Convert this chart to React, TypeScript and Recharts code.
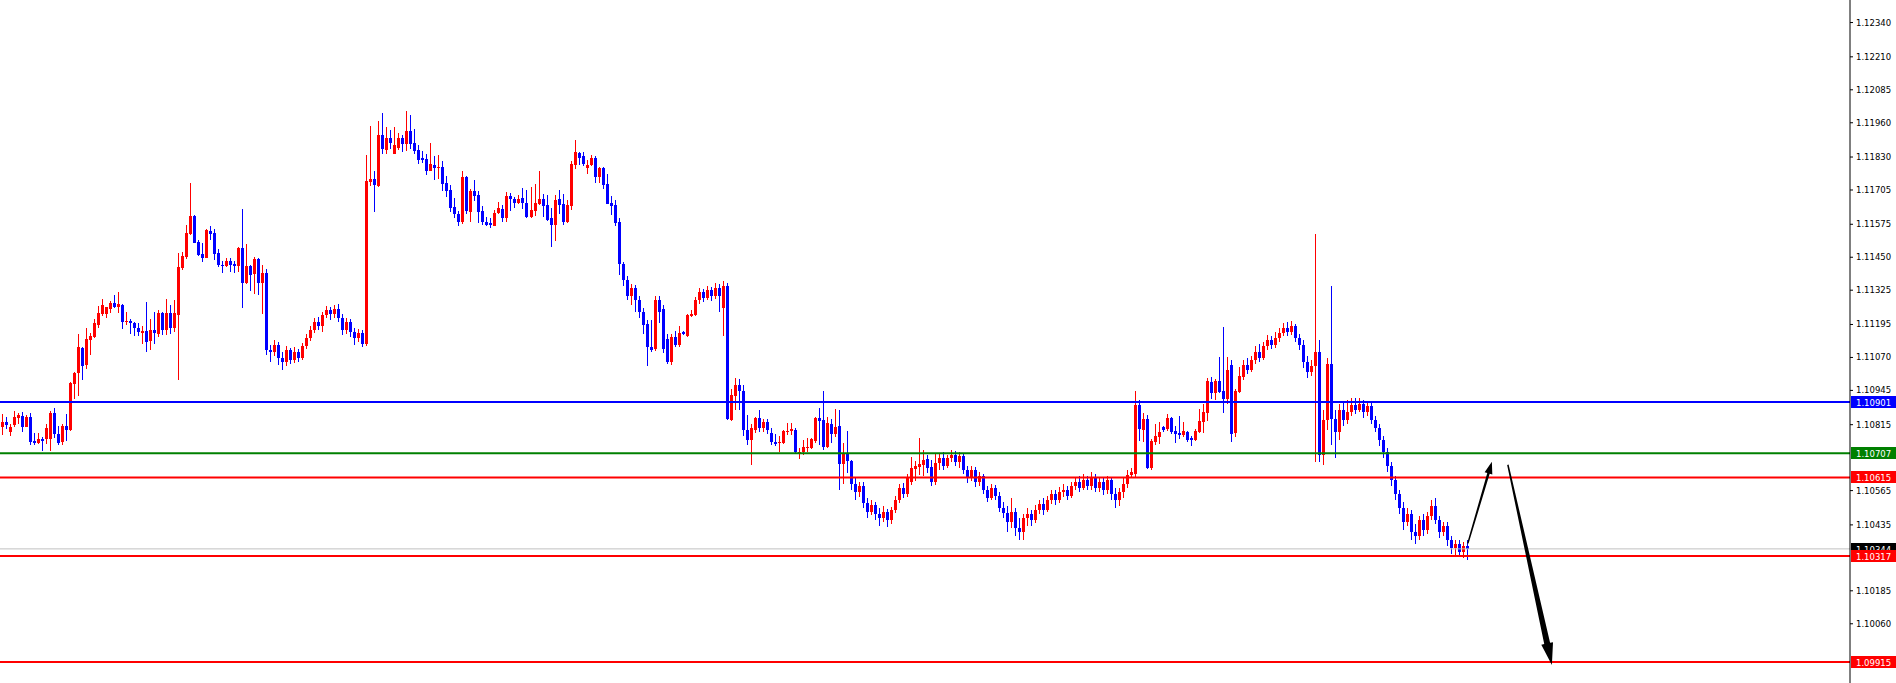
import React from "react";
import { ComposedChart, Bar, XAxis, YAxis, ReferenceLine } from "recharts";

// candle prices in points (1 point = 0.00001), oldest first
const opens = [
  110758, 110806, 110826, 110788, 110812, 110842, 110847, 110808, 110845, 110754,
  110744, 110761, 110759, 110761, 110860, 110780, 110749, 110811, 110795, 110970,
  111011, 111107, 111043, 111137, 111148, 111194, 111236, 111235, 111255, 111277,
  111263, 111269, 111205, 111209, 111201, 111183, 111164, 111171, 111134, 111175,
  111158, 111239, 111175, 111239, 111182, 111231, 111410, 111451, 111539, 111607,
  111508, 111463, 111448, 111550, 111542, 111467, 111421, 111417, 111436, 111425,
  111417, 111486, 111353, 111417, 111387, 111444, 111353, 111391,
  111099, 111091, 111118, 111068, 111053, 111099, 111061, 111091, 111068, 111114,
  111144, 111175, 111205, 111190, 111232, 111251, 111235, 111254, 111220, 111175,
  111205, 111167, 111144, 111163, 111122, 111737, 111745, 111721, 111914, 111857,
  111903, 111842, 111865, 111903, 111880, 111929, 111884, 111857, 111827, 111823,
  111778, 111800, 111789, 111793, 111732, 111706, 111641, 111615, 111584, 111755,
  111623, 111702, 111687, 111626, 111584, 111580, 111570, 111616, 111634, 111597,
  111683, 111671, 111654, 111675, 111657, 111603, 111626, 111653, 111671, 111649,
  111600, 111573, 111671, 111653, 111584, 111645, 111800, 111846, 111835, 111789,
  111800, 111827, 111755, 111789, 111728, 111657, 111649, 111584, 111425, 111364,
  111304, 111334, 111288, 111244, 111197, 111109, 111102, 111288, 111255, 111141,
  111052, 111148, 111118, 111167, 111152, 111228, 111232, 111288, 111319, 111296,
  111326, 111304, 111334, 111258, 111342, 110833, 110924, 110966, 110943, 110795,
  110758, 110795, 110841, 110803, 110826, 110784, 110750, 110744, 110746, 110788,
  110792, 110795, 110711, 110712, 110727, 110727, 110754, 110841, 110833, 110731,
  110818, 110780, 110811, 110667, 110704, 110678, 110591, 110560, 110583, 110519,
  110485, 110511, 110477, 110462, 110485, 110454, 110492, 110530, 110575, 110553,
  110598, 110648, 110655, 110663, 110686, 110655, 110598, 110670, 110689, 110659,
  110689, 110701, 110674, 110697, 110644, 110613, 110644, 110598, 110621, 110568,
  110538, 110575, 110545, 110500, 110481, 110447, 110485, 110424, 110409, 110462,
  110477, 110454, 110492, 110515, 110492, 110530, 110553, 110530, 110560, 110568,
  110545, 110583, 110598, 110575, 110606, 110583, 110613, 110575, 110598, 110568,
  110606, 110553, 110530, 110560, 110591, 110625, 110629, 110890, 110795, 110837,
  110651, 110750, 110769, 110807, 110799, 110841, 110792, 110784, 110777, 110788,
  110763, 110758, 110788, 110826, 110860, 110978, 110936, 110981, 110943, 110913,
  111042, 110784, 110940, 110996, 111042, 111023, 111061, 111091, 111068, 111114,
  111137, 111118, 111144, 111163, 111182, 111167, 111190, 111144, 111118, 111053,
  111015, 111038, 111091, 110701, 110833, 111046, 110837, 110788, 110871, 110833,
  110864, 110890, 110871, 110894, 110864, 110887, 110833, 110803, 110758, 110712,
  110659, 110606, 110553, 110500, 110447, 110477, 110409, 110394, 110454, 110416,
  110469, 110507, 110454, 110409, 110432, 110378, 110348, 110363, 110333, 110356,
];
const highs = [
  110811, 110856, 110846, 110818, 110867, 110861, 110864, 110850, 110861, 110784,
  110783, 110770, 110816, 110865, 110880, 110811, 110819, 110856, 110977, 111015,
  111160, 111111, 111183, 111161, 111216, 111266, 111292, 111263, 111285, 111307,
  111319, 111273, 111243, 111216, 111206, 111200, 111189, 111281, 111216, 111243,
  111250, 111243, 111292, 111269, 111288, 111467, 111470, 111573, 111732, 111609,
  111516, 111505, 111556, 111569, 111558, 111482, 111436, 111448, 111448, 111436,
  111488, 111633, 111501, 111419, 111451, 111446, 111421, 111406,
  111118, 111137, 111129, 111091, 111114, 111106, 111110, 111102, 111125, 111159,
  111190, 111220, 111224, 111243, 111266, 111262, 111270, 111273, 111235, 111220,
  111216, 111182, 111178, 111175, 111838, 111949, 111778, 111967, 111998, 111944,
  111933, 111944, 111922, 111914, 112005, 111990, 111937, 111876, 111853, 111842,
  111884, 111835, 111838, 111816, 111759, 111725, 111675, 111626, 111778, 111759,
  111710, 111743, 111702, 111645, 111603, 111600, 111630, 111660, 111649, 111698,
  111694, 111679, 111687, 111713, 111706, 111717, 111728, 111778, 111690, 111687,
  111637, 111687, 111706, 111690, 111668, 111816, 111895, 111850, 111850, 111819,
  111838, 111835, 111791, 111791, 111766, 111683, 111668, 111600, 111433, 111380,
  111349, 111345, 111304, 111258, 111213, 111213, 111304, 111304, 111270, 111157,
  111160, 111171, 111190, 111169, 111235, 111251, 111300, 111334, 111330, 111342,
  111338, 111353, 111349, 111361, 111353, 110951, 110993, 110989, 110966, 110852,
  110818, 110846, 110871, 110837, 110838, 110803, 110780, 110773, 110794, 110822,
  110822, 110803, 110727, 110758, 110765, 110765, 110843, 110879, 110943, 110845,
  110837, 110875, 110871, 110746, 110792, 110682, 110613, 110598, 110598, 110538,
  110530, 110522, 110500, 110507, 110496, 110503, 110545, 110591, 110594, 110629,
  110693, 110678, 110765, 110720, 110701, 110682, 110704, 110708, 110712, 110701,
  110720, 110716, 110712, 110708, 110659, 110659, 110655, 110636, 110629, 110583,
  110591, 110587, 110560, 110522, 110507, 110538, 110500, 110462, 110477, 110500,
  110492, 110511, 110530, 110538, 110545, 110568, 110568, 110579, 110591, 110583,
  110598, 110613, 110621, 110629, 110621, 110636, 110629, 110617, 110613, 110621,
  110613, 110575, 110575, 110613, 110644, 110651, 110943, 110909, 110860, 110852,
  110761, 110818, 110826, 110809, 110856, 110845, 110811, 110849, 110826, 110790,
  110773, 110799, 110875, 110894, 110993, 110996, 110989, 111073, 111186, 111073,
  111061, 110951, 111034, 111061, 111069, 111076, 111114, 111122, 111129, 111156,
  111152, 111167, 111182, 111201, 111205, 111209, 111197, 111160, 111137, 111076,
  111061, 111539, 111137, 110871, 111069, 111341, 110871, 110894, 110902, 110909,
  110917, 110917, 110917, 110909, 110902, 110902, 110849, 110818, 110773, 110727,
  110674, 110621, 110568, 110522, 110500, 110492, 110439, 110469, 110477, 110485,
  110530, 110538, 110469, 110447, 110447, 110394, 110378, 110378, 110371, 110378,
];
const lows = [
  110754, 110777, 110800, 110773, 110808, 110818, 110788, 110806, 110740, 110740,
  110742, 110717, 110740, 110712, 110766, 110740, 110740, 110755, 110793, 110913,
  110925, 110986, 111028, 111077, 111144, 111183, 111229, 111220, 111240, 111259,
  111240, 111180, 111192, 111161, 111154, 111149, 111120, 111092, 111100, 111123,
  111147, 111156, 111156, 111160, 111167, 110985, 111402, 111444, 111535, 111501,
  111457, 111433, 111446, 111516, 111440, 111413, 111391, 111413, 111395, 111391,
  111395, 111258, 111349, 111319, 111311, 111307, 111235, 111080,
  111053, 111076, 111042, 111023, 111038, 111046, 111049, 111053, 111061, 111102,
  111133, 111163, 111175, 111167, 111220, 111213, 111220, 111205, 111156, 111160,
  111148, 111118, 111129, 111110, 111114, 111721, 111622, 111717, 111842, 111842,
  111861, 111840, 111857, 111850, 111853, 111861, 111842, 111804, 111808, 111762,
  111776, 111743, 111747, 111702, 111679, 111622, 111600, 111569, 111577, 111615,
  111585, 111665, 111582, 111574, 111570, 111563, 111569, 111615, 111585, 111585,
  111626, 111637, 111653, 111635, 111600, 111601, 111607, 111649, 111603, 111590,
  111489, 111512, 111615, 111574, 111580, 111630, 111785, 111800, 111797, 111766,
  111797, 111732, 111732, 111706, 111651, 111611, 111569, 111383, 111342, 111288,
  111269, 111243, 111220, 111160, 111038, 111091, 111095, 111202, 111088, 111042,
  111042, 111110, 111110, 111152, 111148, 111226, 111228, 111273, 111281, 111288,
  111285, 111292, 111244, 111153, 110833, 110830, 110871, 110871, 110773, 110739,
  110663, 110784, 110788, 110788, 110780, 110739, 110735, 110712, 110742, 110777,
  110777, 110710, 110686, 110701, 110712, 110723, 110746, 110739, 110720, 110727,
  110746, 110769, 110568, 110591, 110633, 110568, 110530, 110541, 110500, 110462,
  110473, 110454, 110432, 110447, 110428, 110439, 110481, 110519, 110538, 110541,
  110587, 110602, 110625, 110621, 110633, 110583, 110587, 110644, 110644, 110651,
  110674, 110659, 110651, 110629, 110594, 110602, 110579, 110583, 110553, 110522,
  110530, 110530, 110485, 110462, 110409, 110424, 110394, 110378, 110378, 110432,
  110432, 110443, 110477, 110473, 110485, 110515, 110511, 110519, 110541, 110530,
  110538, 110568, 110560, 110568, 110568, 110568, 110560, 110560, 110549, 110553,
  110530, 110500, 110507, 110538, 110575, 110613, 110613, 110754, 110750, 110648,
  110644, 110739, 110742, 110788, 110792, 110780, 110746, 110761, 110769, 110750,
  110735, 110754, 110784, 110784, 110830, 110913, 110909, 110936, 110860, 110894,
  110750, 110769, 110936, 110985, 111008, 111015, 111046, 111053, 111061, 111099,
  111102, 111106, 111129, 111152, 111152, 111156, 111129, 111099, 111031, 110993,
  111000, 110674, 110674, 110663, 110795, 110739, 110689, 110758, 110811, 110818,
  110849, 110856, 110864, 110841, 110849, 110818, 110788, 110735, 110689, 110636,
  110583, 110530, 110477, 110416, 110432, 110378, 110363, 110378, 110394, 110401,
  110454, 110439, 110386, 110394, 110356, 110325, 110318, 110318, 110310, 110302,
];
const closes = [
  110806, 110826, 110814, 110806, 110845, 110850, 110807, 110845, 110751, 110746,
  110761, 110755, 110803, 110861, 110779, 110747, 110811, 110795, 110974, 111012,
  111111, 111039, 111140, 111153, 111199, 111239, 111267, 111262, 111277, 111262,
  111271, 111205, 111210, 111199, 111180, 111168, 111172, 111130, 111175, 111161,
  111239, 111175, 111239, 111182, 111239, 111413, 111455, 111542, 111607, 111505,
  111460, 111448, 111554, 111540, 111463, 111421, 111417, 111436, 111421, 111417,
  111486, 111353, 111417, 111383, 111444, 111353, 111391, 111099,
  111091, 111118, 111068, 111053, 111099, 111061, 111091, 111068, 111114, 111144,
  111175, 111205, 111190, 111232, 111251, 111235, 111254, 111220, 111175, 111205,
  111167, 111144, 111163, 111122, 111740, 111745, 111725, 111914, 111861, 111903,
  111884, 111876, 111903, 111880, 111929, 111880, 111853, 111819, 111819, 111778,
  111804, 111789, 111793, 111728, 111702, 111637, 111615, 111584, 111755, 111626,
  111702, 111684, 111623, 111582, 111574, 111573, 111618, 111637, 111597, 111683,
  111669, 111657, 111671, 111654, 111603, 111630, 111657, 111671, 111645, 111592,
  111573, 111668, 111649, 111584, 111649, 111804, 111850, 111827, 111804, 111800,
  111827, 111755, 111789, 111725, 111653, 111645, 111580, 111425, 111364, 111304,
  111334, 111288, 111241, 111194, 111109, 111099, 111288, 111244, 111103, 111052,
  111148, 111118, 111163, 111160, 111232, 111235, 111288, 111319, 111296, 111326,
  111304, 111334, 111304, 111342, 110837, 110928, 110966, 110943, 110795, 110758,
  110803, 110842, 110803, 110826, 110795, 110748, 110740, 110750, 110792, 110792,
  110799, 110712, 110713, 110731, 110731, 110761, 110841, 110830, 110731, 110822,
  110780, 110807, 110667, 110704, 110678, 110591, 110560, 110583, 110519, 110485,
  110511, 110477, 110462, 110485, 110454, 110492, 110530, 110575, 110553, 110613,
  110651, 110659, 110667, 110682, 110651, 110598, 110670, 110689, 110659, 110689,
  110701, 110674, 110697, 110644, 110613, 110644, 110598, 110621, 110568, 110538,
  110575, 110545, 110500, 110481, 110447, 110485, 110424, 110409, 110462, 110477,
  110454, 110492, 110515, 110492, 110530, 110553, 110530, 110560, 110568, 110545,
  110583, 110598, 110575, 110606, 110583, 110613, 110575, 110598, 110568, 110606,
  110553, 110530, 110560, 110591, 110625, 110636, 110890, 110799, 110837, 110651,
  110754, 110773, 110788, 110795, 110841, 110788, 110780, 110777, 110792, 110758,
  110758, 110792, 110830, 110864, 110981, 110936, 110981, 110940, 110913, 111023,
  110780, 110943, 111000, 111042, 111023, 111061, 111091, 111068, 111114, 111137,
  111118, 111144, 111163, 111182, 111167, 111190, 111144, 111118, 111053, 111015,
  111038, 111091, 110701, 110833, 111046, 110837, 110788, 110871, 110833, 110864,
  110890, 110871, 110894, 110864, 110887, 110833, 110803, 110758, 110712, 110659,
  110606, 110553, 110500, 110447, 110477, 110409, 110394, 110454, 110416, 110469,
  110507, 110454, 110409, 110432, 110378, 110348, 110363, 110333, 110356, 110344,
];

const POINT = 100000;
const SLOTS = 463;
const priceMin = 1.098354;
const priceMax = 1.124255;

const yTicks = [
  1.1234, 1.1221, 1.12085, 1.1196, 1.1183, 1.11705, 1.11575, 1.1145, 1.11325, 1.11195,
  1.1107, 1.10945, 1.10815, 1.10565, 1.10435, 1.10185, 1.1006,
];

// horizontal levels drawn on the chart (price, line colour, tag colour)
const levelPrices = [1.10901, 1.10707, 1.10615, 1.10344, 1.10317, 1.09915];
const levelColors = ["#0000ff", "#008000", "#ff0000", "#c0c0c0", "#ff0000", "#ff0000"];
const tagColors = ["#0000ff", "#008000", "#ff0000", "#000000", "#ff0000", "#ff0000"];

const upArrow = [
  { x: 367, y: 1.10365 },
  { x: 373, y: 1.10674 },
];
const downArrow = [
  { x: 377, y: 1.10663 },
  { x: 388, y: 1.09904 },
];

const data = Array.from({ length: SLOTS }, (_, i) =>
  i < opens.length
    ? {
        idx: i,
        o: opens[i] / POINT,
        h: highs[i] / POINT,
        l: lows[i] / POINT,
        c: closes[i] / POINT,
      }
    : { idx: i }
);

const FONT = "'DejaVu Sans', Tahoma, sans-serif";

const Candle = (props: any) => {
  const { x, y, width, height, payload } = props;
  if (!payload || payload.o == null) return null;
  const { o, h, l, c } = payload;
  const top = Math.min(y, y + height);
  const hh = Math.abs(height);
  const ratio = h > l ? hh / (h - l) : 0;
  const cx = Math.round(x + width / 2);
  const bTop = Math.round(top + (h - Math.max(o, c)) * ratio);
  let bBot = Math.round(top + (h - Math.min(o, c)) * ratio);
  if (bBot - bTop < 1) bBot = bTop + 1;
  const color = c >= o ? "#ff0000" : "#0000ff";
  return (
    <g>
      <rect x={cx - 1} y={Math.round(top)} width={1} height={Math.max(1, Math.round(hh))} fill={color} />
      <rect x={cx - 2} y={bTop} width={3} height={bBot - bTop} fill={color} />
    </g>
  );
};

const PriceTag = (props: any) => {
  const { viewBox, value, fill } = props;
  if (!viewBox) return null;
  const xr = viewBox.x + viewBox.width;
  const yc = Math.round(viewBox.y);
  return (
    <g>
      <rect x={xr + 1} y={yc - 6} width={46} height={12} fill={fill} />
      <text x={xr + 6} y={yc + 3.5} fill="#ffffff" fontSize={8.5} fontFamily={FONT}>
        {value}
      </text>
    </g>
  );
};

const Arrow = (props: any) => {
  const { x1, y1, x2, y2, headLen, headW, tailW, neckW } = props;
  if ([x1, y1, x2, y2].some((v) => v == null || isNaN(v))) return null;
  const dx = x2 - x1;
  const dy = y2 - y1;
  const len = Math.hypot(dx, dy) || 1;
  const ux = dx / len;
  const uy = dy / len;
  const nx = -uy;
  const ny = ux;
  const bx = x2 - ux * headLen;
  const by = y2 - uy * headLen;
  const pts = [
    [x1 + (nx * tailW) / 2, y1 + (ny * tailW) / 2],
    [bx + (nx * neckW) / 2, by + (ny * neckW) / 2],
    [bx + (nx * headW) / 2, by + (ny * headW) / 2],
    [x2, y2],
    [bx - (nx * headW) / 2, by - (ny * headW) / 2],
    [bx - (nx * neckW) / 2, by - (ny * neckW) / 2],
    [x1 - (nx * tailW) / 2, y1 - (ny * tailW) / 2],
  ];
  return <polygon points={pts.map((p) => p.join(",")).join(" ")} fill="#000000" />;
};

export default function App() {
  return (
    <div style={{ width: 1896, height: 683, background: "#ffffff" }}>
      <style>{"body{margin:0;}"}</style>
      <ComposedChart
        width={1896}
        height={683}
        data={data}
        margin={{ top: 0, right: 0, bottom: 0, left: -2.7 }}
        barCategoryGap={0}
      >
        <XAxis dataKey="idx" type="category" hide />
        <YAxis
          orientation="right"
          width={46}
          domain={[priceMin, priceMax]}
          ticks={yTicks}
          interval={0}
          allowDataOverflow
          tickFormatter={(v: number) => v.toFixed(5)}
          tick={{ fontSize: 8.5, fill: "#000000", fontFamily: FONT }}
          tickSize={3}
          tickMargin={3}
          tickLine={{ stroke: "#000000" }}
          axisLine={{ stroke: "#000000" }}
        />
        {levelPrices.map((p, i) => (
          <ReferenceLine
            key={p}
            y={p}
            stroke={levelColors[i]}
            strokeWidth={i === 3 ? 1 : 2}
            ifOverflow="visible"
            label={<PriceTag value={p.toFixed(5)} fill={tagColors[i]} />}
          />
        ))}
        <Bar
          dataKey={(d: any) => (d.o == null ? null : [d.l, d.h])}
          shape={<Candle />}
          isAnimationActive={false}
        />
        <ReferenceLine
          segment={upArrow}
          ifOverflow="visible"
          shape={(p: any) => <Arrow {...p} headLen={12} headW={8} tailW={1.5} neckW={2.5} />}
        />
        <ReferenceLine
          segment={downArrow}
          ifOverflow="visible"
          shape={(p: any) => <Arrow {...p} headLen={22} headW={12} tailW={1.5} neckW={6} />}
        />
      </ComposedChart>
    </div>
  );
}
